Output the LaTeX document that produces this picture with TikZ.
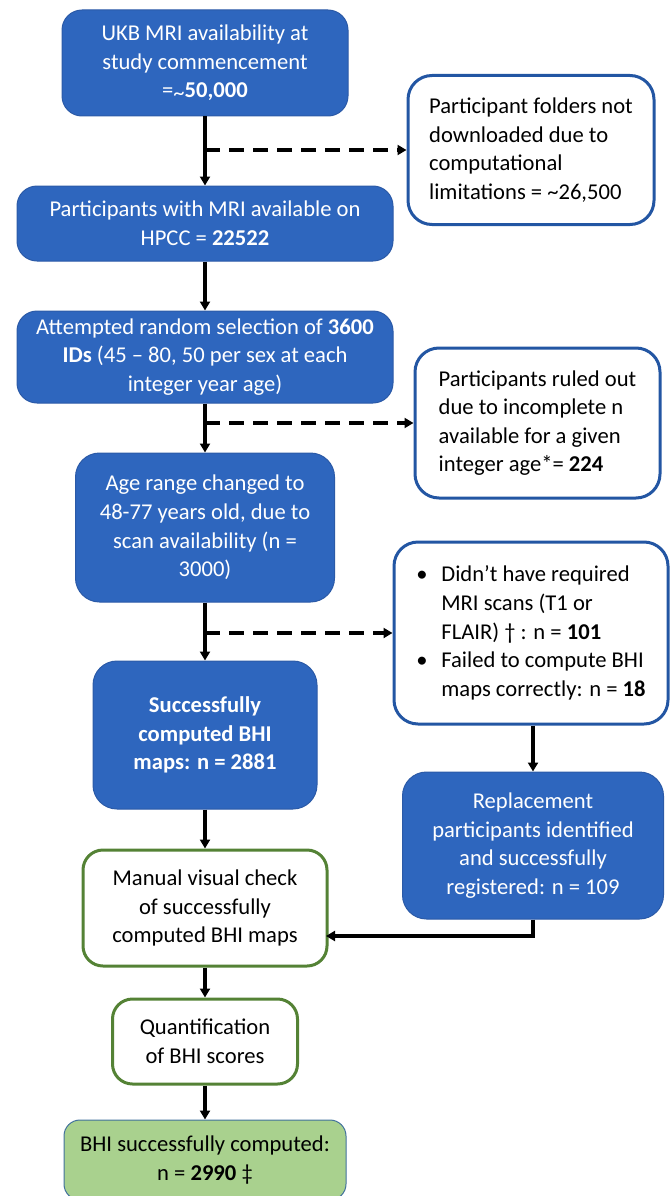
\documentclass[tikz,border=0pt]{standalone}
\usepackage{fontspec}
\setmainfont{Carlito}
\usetikzlibrary{arrows.meta}
\definecolor{bluefill}{HTML}{2E66BE}
\definecolor{blueedge}{HTML}{2B5AA7}
\definecolor{outedge}{HTML}{2356A3}
\definecolor{greenedge}{HTML}{548235}
\definecolor{greenfill}{HTML}{A9D18E}
\definecolor{finedge}{HTML}{41719C}
\begin{document}
\begin{tikzpicture}[x=1pt,y=-1pt,
  every node/.style={font=\fontsize{22.6}{28.6}\selectfont, inner sep=0pt},
  bluebox/.style={rectangle, rounded corners=20pt, fill=bluefill, draw=blueedge, line width=1pt, text=white, align=center},
  outbox/.style={rectangle, rounded corners=24pt, fill=white, draw=outedge, line width=3pt, text=black, align=left},
  greenbox/.style={rectangle, rounded corners=20pt, fill=white, draw=greenedge, line width=3pt, text=black, align=center},
  finbox/.style={rectangle, rounded corners=16pt, fill=greenfill, draw=finedge, line width=1pt, text=black, align=center},
  arr/.style={draw=black, line width=3.2pt, -{Triangle[length=9pt,width=10pt]}},
  darr/.style={draw=black, line width=3.2pt, dash pattern=on 15pt off 9pt, -{Triangle[length=9pt,width=10pt]}}
]
\useasboundingbox (0,0) rectangle (670,1196);

\node[bluebox, minimum width=286pt, minimum height=106pt] (b1) at (205,63)
  {UKB MRI availability at\\study commencement\\=\raisebox{-0.25ex}{\textasciitilde}\textbf{50,000}};
\node[outbox, minimum width=246pt, minimum height=149pt] (r1) at (531,150)
  {Participant folders not\\downloaded due to\\computational\\limitations = \textasciitilde 26,500};
\node[bluebox, minimum width=376pt, minimum height=75pt] (b2) at (205,223.5)
  {Participants with MRI available on\\HPCC = \textbf{22522}};
\node[bluebox, minimum width=376pt, minimum height=92pt] (b3) at (205,357)
  {Attempted random selection of \textbf{3600}\\\textbf{IDs} (45 – 80, 50 per sex at each\\integer year age)};
\node[outbox, minimum width=245pt, minimum height=150pt] (r2) at (537.5,423)
  {Participants ruled out\\due to incomplete n\\available for a given\\integer age*= \textbf{224}};
\node[bluebox, rounded corners=24pt, minimum width=259pt, minimum height=149pt] (b4) at (205,527.5)
  {Age range changed to\\48-77 years old, due to\\scan availability (n =\\3000)};
\node[outbox, minimum width=274pt, minimum height=182pt] (r3) at (531,633)
  {\makebox[25pt][l]{•}Didn’t have required\\\hspace*{25pt}MRI scans (T1 or\\\hspace*{25pt}FLAIR) † : n = \textbf{101}\\\makebox[25pt][l]{•}Failed to compute BHI\\\hspace*{25pt}maps correctly: n = \textbf{18}};
\node[bluebox, rounded corners=24pt, minimum width=224pt, minimum height=148pt, font=\fontsize{22.6}{28.6}\selectfont\bfseries] (b5) at (205,735)
  {Successfully\\computed BHI\\maps: n = 2881};
\node[bluebox, rounded corners=24pt, minimum width=261pt, minimum height=147pt] (rep) at (533,845.5)
  {Replacement\\participants identified\\and successfully\\registered: n = 109};
\node[greenbox, minimum width=244pt, minimum height=116pt] (g1) at (205,908)
  {Manual visual check\\of successfully\\computed BHI maps};
\node[greenbox, minimum width=185pt, minimum height=85pt] (g2) at (205,1041.5)
  {Quantification\\of BHI scores};
\node[finbox, minimum width=282pt, minimum height=80pt] (fin) at (205,1160)
  {BHI successfully computed:\\n = \textbf{2990} ‡};

\coordinate (d1) at (205,150);
\coordinate (d2) at (205,423);
\coordinate (d3) at (205,633);
\coordinate (gin) at (326,936);

\draw[arr] (b1) -- (b2);
\draw[arr] (b2) -- (b3);
\draw[arr] (b3) -- (b4);
\draw[arr] (b4) -- (b5);
\draw[arr] (b5) -- (g1);
\draw[arr] (g1) -- (g2);
\draw[arr] (g2) -- (fin);
\draw[darr] (d1) -- (d1 -| r1.west);
\draw[darr] (d2) -- (d2 -| r2.west);
\draw[darr] (d3) -- (d3 -| r3.west);
\draw[arr] (r3.south -| rep) -- (rep.north);
\draw[arr] (rep.south) |- (gin);
\end{tikzpicture}
\end{document}
